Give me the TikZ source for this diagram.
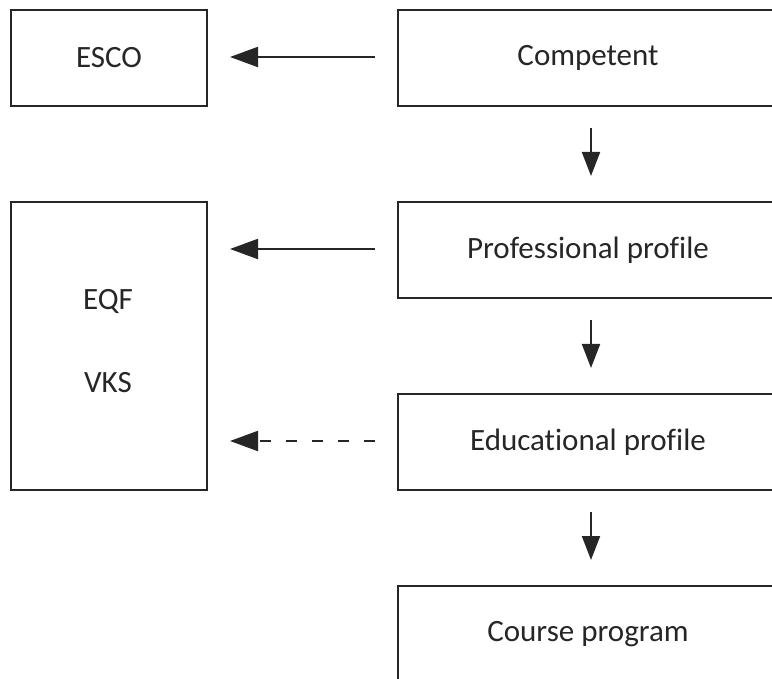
\documentclass[tikz,border=0pt]{standalone}
\usepackage{fontspec}
\setmainfont{Carlito}[Ligatures=NoCommon]
\usetikzlibrary{arrows.meta}
\begin{document}
\begin{tikzpicture}[x=1pt,y=1pt,
  box/.style={draw=black!85, line width=2pt, inner sep=0pt, anchor=north west,
    font=\fontsize{31}{36}\selectfont, text=black!85},
  label/.style={font=\fontsize{31}{36}\selectfont, text=black!85},
  link/.style={line width=2pt, draw=black!85,
    -{Triangle[length=28pt,width=20pt]}},
  flow/.style={line width=2pt, draw=black!85,
    -{Triangle[length=24pt,width=18pt]}},
  dashlink/.style={link, dash pattern=on 11pt off 15pt}]
\useasboundingbox (0,0) rectangle (772,-679);
\begin{scope}
\clip (0,0) rectangle (772,-679);
% left column
\node[box, minimum width=196pt, minimum height=96pt] (esco) at (10,-9) {ESCO};
\node[box, minimum width=196pt, minimum height=288pt] (frame) at (10,-201) {};
\node[label] (eqf) at (108,-301) {EQF};
\node[label] (vks) at (108,-383) {VKS};
% right column (boxes run past the right edge)
\node[box, minimum width=384pt, minimum height=96pt] (comp) at (397,-9) {\hspace*{-4pt}Competent};
\node[box, minimum width=384pt, minimum height=96pt] (prof) at (397,-201) {\hspace*{-4pt}Professional profile};
\node[box, minimum width=384pt, minimum height=96pt] (edu) at (397,-393) {\hspace*{-4pt}Educational profile};
\node[box, minimum width=384pt, minimum height=96pt] (course) at (397,-585) {\hspace*{-4pt}Course program};
% connector end points
\coordinate (a1s) at (375,-57);  \coordinate (a1e) at (230,-57);
\coordinate (a2s) at (375,-249); \coordinate (a2e) at (230,-249);
\coordinate (a3s) at (375,-441); \coordinate (a3e) at (230,-441);
\coordinate (d1s) at (591,-128); \coordinate (d1e) at (591,-176);
\coordinate (d2s) at (591,-320); \coordinate (d2e) at (591,-368);
\coordinate (d3s) at (591,-512); \coordinate (d3e) at (591,-560);
\draw[link] (a1s) -- (a1e);
\draw[link] (a2s) -- (a2e);
\draw[dashlink] (a3s) -- (a3e);
\draw[flow] (d1s) -- (d1e);
\draw[flow] (d2s) -- (d2e);
\draw[flow] (d3s) -- (d3e);
\end{scope}
\end{tikzpicture}
\end{document}
